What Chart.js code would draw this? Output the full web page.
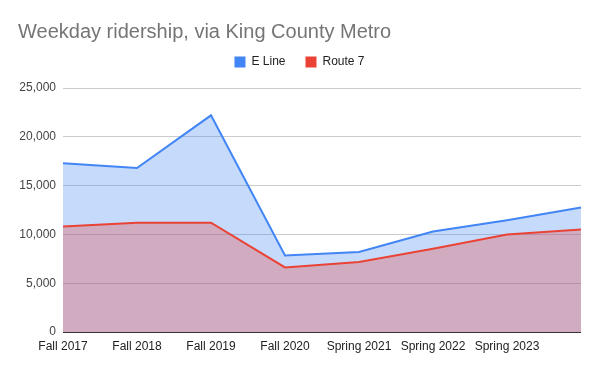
<!DOCTYPE html>
<html>
<head>
<meta charset="utf-8">
<script src="https://cdn.jsdelivr.net/npm/chart.js@4/dist/chart.umd.min.js"></script>
<style>
    html, body { margin: 0; padding: 0; background: #fff; }
    #wrap { width: 600px; height: 371px; }
</style>
</head>
<body>
<div id="wrap"><canvas id="chart"></canvas></div>
<script>
// --- Datos ---
const categories = ['Fall 2017', 'Fall 2018', 'Fall 2019', 'Fall 2020', 'Spring 2021', 'Spring 2022', 'Spring 2023', 'Spring 2024'];
const eLine = [17300, 16800, 22200, 7850, 8200, 10300, 11450, 12750];
const route7 = [10800, 11200, 11200, 6620, 7170, 8530, 10000, 10500];
// la última etiqueta no se muestra en el original (no cabe)
const hiddenTicks = ['Spring 2024'];
const yTicks = [0, 5000, 10000, 15000, 20000, 25000];

const FONT = "'Liberation Sans', Arial, sans-serif";
const BLUE = '#4285f4';
const RED = '#ea4335';

Chart.defaults.font.family = FONT;
Chart.defaults.font.size = 12;
Chart.defaults.color = '#222';

new Chart(document.getElementById('chart'), {
    type: 'line',
    data: {
        labels: categories,
        datasets: [
            {
                label: 'E Line',
                data: eLine,
                borderColor: BLUE,
                backgroundColor: 'rgba(66,133,244,0.3)',
                fill: 'origin',
                borderWidth: 2,
                pointRadius: 0,
                order: 1
            },
            {
                label: 'Route 7',
                data: route7,
                borderColor: RED,
                backgroundColor: 'rgba(234,67,53,0.3)',
                fill: 'origin',
                borderWidth: 2,
                pointRadius: 0,
                order: 0
            }
        ]
    },
    options: {
        responsive: true,
        maintainAspectRatio: false,
        animation: false,
        layout: { padding: { left: 18, right: 19, top: 0, bottom: 0 } },
        plugins: {
            title: {
                display: true,
                text: 'Weekday ridership, via King County Metro',
                align: 'start',
                color: '#757575',
                font: { size: 20, weight: 'normal' },
                padding: { top: 20, bottom: -8 }
            },
            // espacio vacío entre la leyenda y el área del gráfico
            subtitle: {
                display: true,
                text: '',
                weight: 500,
                font: { size: 10, lineHeight: 1 },
                padding: 0
            },
            legend: {
                labels: {
                    boxWidth: 11,
                    boxHeight: 11,
                    padding: 20,
                    color: '#222',
                    sort: (a, b) => a.datasetIndex - b.datasetIndex,
                    generateLabels: (chart) => {
                        const items = Chart.defaults.plugins.legend.labels.generateLabels(chart);
                        items.forEach(it => {
                            it.fillStyle = chart.data.datasets[it.datasetIndex].borderColor;
                            it.lineWidth = 0;
                        });
                        return items;
                    }
                }
            },
            tooltip: { enabled: false }
        },
        scales: {
            x: {
                grid: { display: false, drawTicks: false },
                border: { display: false },
                ticks: {
                    autoSkip: false,
                    maxRotation: 0,
                    padding: 7,
                    color: '#222',
                    callback: function (v) {
                        const lbl = this.getLabelForValue(v);
                        return hiddenTicks.includes(lbl) ? '' : lbl;
                    }
                },
                afterFit: (scale) => { scale.height = 39; }
            },
            y: {
                min: 0,
                max: 25000,
                afterBuildTicks: (scale) => { scale.ticks = yTicks.map(v => ({ value: v })); },
                grid: {
                    drawTicks: false,
                    color: (ctx) => ctx.tick && ctx.tick.value === 0 ? '#333' : '#ccc'
                },
                border: { display: false },
                ticks: {
                    padding: 7,
                    color: '#444',
                    callback: (v) => v.toLocaleString('en-US')
                },
                afterFit: (scale) => { scale.width = 45; }
            }
        }
    }
});
</script>
</body>
</html>
